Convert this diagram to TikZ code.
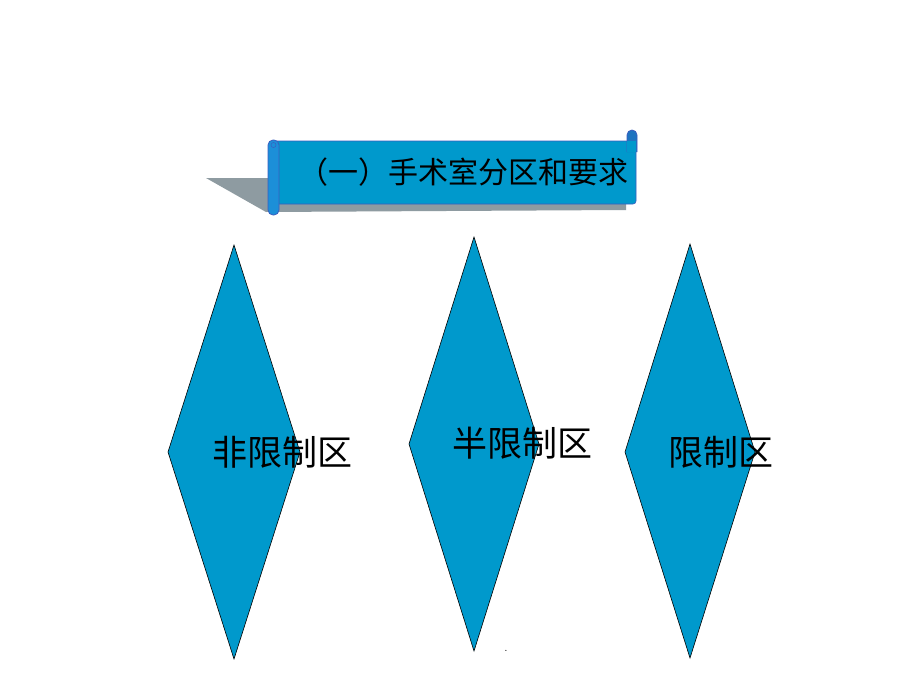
\documentclass[tikz,border=0pt]{standalone}
\usepackage{fontspec}
\newfontfamily\cjk{Noto Sans CJK SC}
\definecolor{zoneblue}{HTML}{0099CC}
\definecolor{rodblue}{HTML}{1C8FD8}
\definecolor{rodedge}{HTML}{3A5DBF}
\definecolor{curlblue}{HTML}{1E74C0}
\definecolor{shadowgray}{HTML}{8E9BA1}
\tikzset{
  zone/.style={fill=zoneblue,draw=black,line width=0.6pt,line join=miter},
  zonelabel/.style={font=\cjk\fontsize{35}{35}\selectfont,text=black,inner sep=0pt},
  titlelabel/.style={font=\cjk\fontsize{30}{30}\selectfont,text=black,inner sep=0pt},
  rod/.style={fill=rodblue,draw=rodedge,line width=0.8pt},
}
\begin{document}
\begin{tikzpicture}[x=1pt,y=-1pt]
\useasboundingbox (0,0) rectangle (920,690);
\fill[white] (0,0) rectangle (920,690);
% banner shadow
\fill[shadowgray] (206,178) -- (275,178) -- (275,203) -- (626,203) -- (626,210) -- (266,212) -- cycle;
% banner body
\draw[fill=zoneblue,draw=rodedge,line width=0.6pt,rounded corners=3pt] (273,141) -- (636,141) -- (636,204) -- (273,204) -- cycle;
% right curl
\draw[rod,fill=curlblue,rounded corners=5pt] (627,152) -- (627,130) -- (637,130) -- (637,152);
\fill[zoneblue] (627.4,141.4) rectangle (635.6,152);
% left rod
\draw[rod,rounded corners=5pt] (268,140) rectangle (279,215);
\draw[rodedge,line width=0.5pt] (273.5,145) circle (2.5pt);
% title
\node[titlelabel] (title) at (463,172) {（一）手术室分区和要求};
% diamonds
\draw[zone] (234,245) coordinate (d1t) -- (300,452) coordinate (d1r) -- (234,659) coordinate (d1b) -- (168,452) coordinate (d1l) -- cycle;
\draw[zone] (474,237) coordinate (d2t) -- (539,444) coordinate (d2r) -- (474,651) coordinate (d2b) -- (409,444) coordinate (d2l) -- cycle;
\draw[zone] (690,244) coordinate (d3t) -- (755,452) coordinate (d3r) -- (690,658) coordinate (d3b) -- (625,452) coordinate (d3l) -- cycle;
% labels
\node[zonelabel] (l1) at (282,452) {非限制区};
\node[zonelabel] (l2) at (522,443) {半限制区};
\node[zonelabel] (l3) at (721,452) {限制区};
\node[font=\fontsize{12}{12}\selectfont,inner sep=0pt,anchor=base] (dot) at (506,651) {.};
\end{tikzpicture}
\end{document}
